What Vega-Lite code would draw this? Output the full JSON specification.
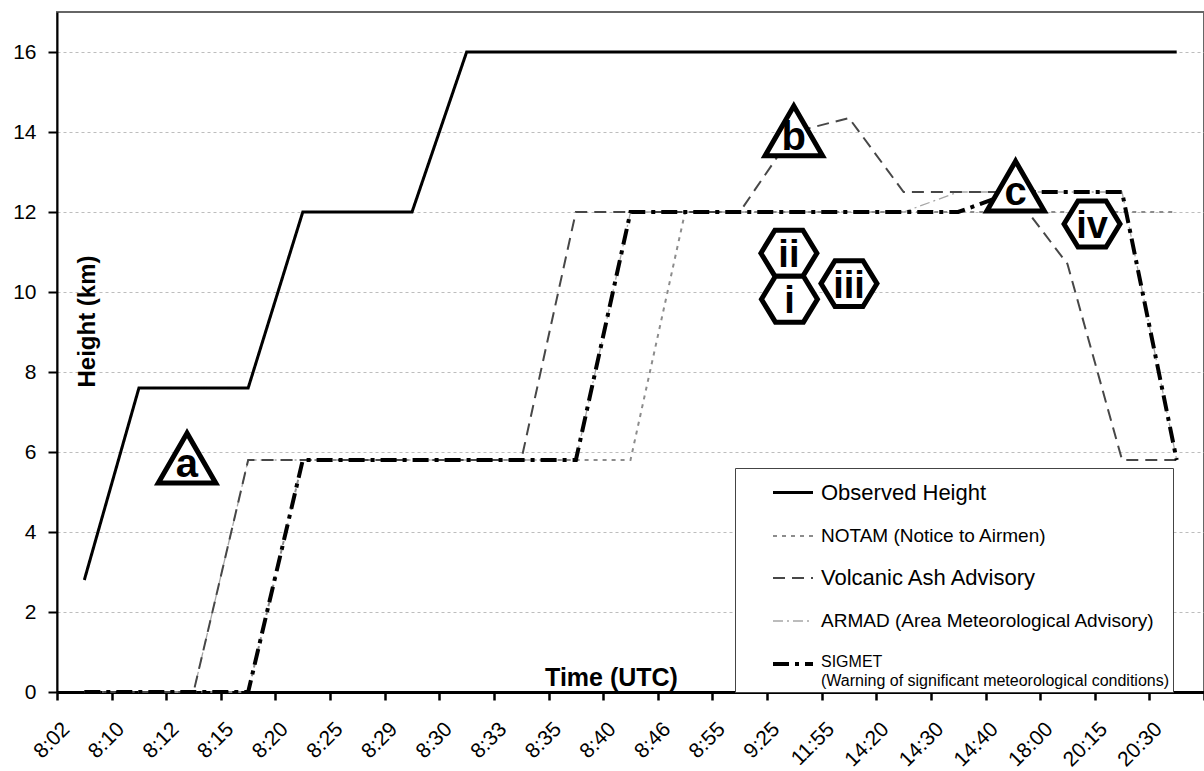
{
  "$schema": "https://vega.github.io/schema/vega-lite/v6.json",
  "width": 1147,
  "height": 680,
  "autosize": {"type": "none"},
  "padding": {"left": 57, "top": 12, "right": 0, "bottom": 79},
  "background": "white",
  "config": {
    "font": "Liberation Sans",
    "view": {"stroke": "#666666", "strokeWidth": 2}
  },
  "datasets": {
    "heights": [
      {"series": "ARMAD", "time": "8:02", "km": 0}, {"series": "ARMAD", "time": "8:10", "km": 0}, {"series": "ARMAD", "time": "8:12", "km": 0}, {"series": "ARMAD", "time": "8:15", "km": 5.8}, {"series": "ARMAD", "time": "8:20", "km": 5.8}, {"series": "ARMAD", "time": "8:25", "km": 5.8}, {"series": "ARMAD", "time": "8:29", "km": 5.8}, {"series": "ARMAD", "time": "8:30", "km": 5.8}, {"series": "ARMAD", "time": "8:33", "km": 5.8}, {"series": "ARMAD", "time": "8:35", "km": 5.8}, {"series": "ARMAD", "time": "8:40", "km": 12}, {"series": "ARMAD", "time": "8:46", "km": 12}, {"series": "ARMAD", "time": "8:55", "km": 12}, {"series": "ARMAD", "time": "9:25", "km": 12}, {"series": "ARMAD", "time": "11:55", "km": 12}, {"series": "ARMAD", "time": "14:20", "km": 12}, {"series": "ARMAD", "time": "14:30", "km": 12.5}, {"series": "ARMAD", "time": "14:40", "km": 12.5}, {"series": "ARMAD", "time": "18:00", "km": 12.5}, {"series": "ARMAD", "time": "20:15", "km": 12.5}, {"series": "ARMAD", "time": "20:30", "km": 5.8},
      {"series": "NOTAM", "time": "8:02", "km": 0}, {"series": "NOTAM", "time": "8:10", "km": 0}, {"series": "NOTAM", "time": "8:12", "km": 0}, {"series": "NOTAM", "time": "8:15", "km": 0}, {"series": "NOTAM", "time": "8:20", "km": 5.8}, {"series": "NOTAM", "time": "8:25", "km": 5.8}, {"series": "NOTAM", "time": "8:29", "km": 5.8}, {"series": "NOTAM", "time": "8:30", "km": 5.8}, {"series": "NOTAM", "time": "8:33", "km": 5.8}, {"series": "NOTAM", "time": "8:35", "km": 5.8}, {"series": "NOTAM", "time": "8:40", "km": 5.8}, {"series": "NOTAM", "time": "8:46", "km": 12}, {"series": "NOTAM", "time": "8:55", "km": 12}, {"series": "NOTAM", "time": "9:25", "km": 12}, {"series": "NOTAM", "time": "11:55", "km": 12}, {"series": "NOTAM", "time": "14:20", "km": 12}, {"series": "NOTAM", "time": "14:30", "km": 12}, {"series": "NOTAM", "time": "14:40", "km": 12}, {"series": "NOTAM", "time": "18:00", "km": 12}, {"series": "NOTAM", "time": "20:15", "km": 12}, {"series": "NOTAM", "time": "20:30", "km": 12},
      {"series": "Volcanic Ash Advisory", "time": "8:02", "km": 0}, {"series": "Volcanic Ash Advisory", "time": "8:10", "km": 0}, {"series": "Volcanic Ash Advisory", "time": "8:12", "km": 0}, {"series": "Volcanic Ash Advisory", "time": "8:15", "km": 5.8}, {"series": "Volcanic Ash Advisory", "time": "8:20", "km": 5.8}, {"series": "Volcanic Ash Advisory", "time": "8:25", "km": 5.8}, {"series": "Volcanic Ash Advisory", "time": "8:29", "km": 5.8}, {"series": "Volcanic Ash Advisory", "time": "8:30", "km": 5.8}, {"series": "Volcanic Ash Advisory", "time": "8:33", "km": 5.8}, {"series": "Volcanic Ash Advisory", "time": "8:35", "km": 12}, {"series": "Volcanic Ash Advisory", "time": "8:40", "km": 12}, {"series": "Volcanic Ash Advisory", "time": "8:46", "km": 12}, {"series": "Volcanic Ash Advisory", "time": "8:55", "km": 12}, {"series": "Volcanic Ash Advisory", "time": "9:25", "km": 14}, {"series": "Volcanic Ash Advisory", "time": "11:55", "km": 14.35}, {"series": "Volcanic Ash Advisory", "time": "14:20", "km": 12.5}, {"series": "Volcanic Ash Advisory", "time": "14:30", "km": 12.5}, {"series": "Volcanic Ash Advisory", "time": "14:40", "km": 12.5}, {"series": "Volcanic Ash Advisory", "time": "18:00", "km": 10.7}, {"series": "Volcanic Ash Advisory", "time": "20:15", "km": 5.8}, {"series": "Volcanic Ash Advisory", "time": "20:30", "km": 5.8},
      {"series": "SIGMET", "time": "8:02", "km": 0}, {"series": "SIGMET", "time": "8:10", "km": 0}, {"series": "SIGMET", "time": "8:12", "km": 0}, {"series": "SIGMET", "time": "8:15", "km": 0}, {"series": "SIGMET", "time": "8:20", "km": 5.8}, {"series": "SIGMET", "time": "8:25", "km": 5.8}, {"series": "SIGMET", "time": "8:29", "km": 5.8}, {"series": "SIGMET", "time": "8:30", "km": 5.8}, {"series": "SIGMET", "time": "8:33", "km": 5.8}, {"series": "SIGMET", "time": "8:35", "km": 5.8}, {"series": "SIGMET", "time": "8:40", "km": 12}, {"series": "SIGMET", "time": "8:46", "km": 12}, {"series": "SIGMET", "time": "8:55", "km": 12}, {"series": "SIGMET", "time": "9:25", "km": 12}, {"series": "SIGMET", "time": "11:55", "km": 12}, {"series": "SIGMET", "time": "14:20", "km": 12}, {"series": "SIGMET", "time": "14:30", "km": 12}, {"series": "SIGMET", "time": "14:40", "km": 12.5}, {"series": "SIGMET", "time": "18:00", "km": 12.5}, {"series": "SIGMET", "time": "20:15", "km": 12.5}, {"series": "SIGMET", "time": "20:30", "km": 5.8},
      {"series": "Observed Height", "time": "8:02", "km": 2.8}, {"series": "Observed Height", "time": "8:10", "km": 7.6}, {"series": "Observed Height", "time": "8:12", "km": 7.6}, {"series": "Observed Height", "time": "8:15", "km": 7.6}, {"series": "Observed Height", "time": "8:20", "km": 12}, {"series": "Observed Height", "time": "8:25", "km": 12}, {"series": "Observed Height", "time": "8:29", "km": 12}, {"series": "Observed Height", "time": "8:30", "km": 16}, {"series": "Observed Height", "time": "8:33", "km": 16}, {"series": "Observed Height", "time": "8:35", "km": 16}, {"series": "Observed Height", "time": "8:40", "km": 16}, {"series": "Observed Height", "time": "8:46", "km": 16}, {"series": "Observed Height", "time": "8:55", "km": 16}, {"series": "Observed Height", "time": "9:25", "km": 16}, {"series": "Observed Height", "time": "11:55", "km": 16}, {"series": "Observed Height", "time": "14:20", "km": 16}, {"series": "Observed Height", "time": "14:30", "km": 16}, {"series": "Observed Height", "time": "14:40", "km": 16}, {"series": "Observed Height", "time": "18:00", "km": 16}, {"series": "Observed Height", "time": "20:15", "km": 16}, {"series": "Observed Height", "time": "20:30", "km": 16}
    ],
    "triangles": [
      {"label": "a", "pos": 2.38, "km": 5.85},
      {"label": "b", "pos": 13.49, "km": 14.03},
      {"label": "c", "pos": 17.55, "km": 12.65}
    ],
    "hexagons": [
      {"label": "ii", "pos": 13.4, "km": 10.97},
      {"label": "i", "pos": 13.41, "km": 9.82},
      {"label": "iii", "pos": 14.5, "km": 10.21},
      {"label": "iv", "pos": 18.95, "km": 11.7}
    ]
  },
  "layer": [
    {
      "data": {"name": "heights"},
      "mark": {"type": "line", "strokeCap": "butt", "strokeJoin": "miter"},
      "encoding": {
        "x": {
          "field": "time", "type": "ordinal",
          "sort": ["8:02","8:10","8:12","8:15","8:20","8:25","8:29","8:30","8:33","8:35","8:40","8:46","8:55","9:25","11:55","14:20","14:30","14:40","18:00","20:15","20:30"],
          "scale": {"type": "band", "paddingInner": 0, "paddingOuter": 0},
          "bandPosition": 0.5,
          "axis": {
            "title": "Time (UTC)", "titleFontSize": 25, "titleFontWeight": "bold", "titleColor": "black",
            "titleX": 554, "titleY": -15, "titleAlign": "center", "titleBaseline": "middle",
            "labelAngle": -45, "labelFontSize": 21, "labelColor": "black", "labelPadding": 18, "labelOffset": -26,
            "tickBand": "extent", "tickSize": 8, "tickColor": "black", "tickWidth": 2.5,
            "domainColor": "black", "domainWidth": 3, "grid": false
          }
        },
        "y": {
          "field": "km", "type": "quantitative",
          "scale": {"domain": [0, 17], "nice": false},
          "axis": {
            "title": "Height (km)", "titleFontSize": 24, "titleFontWeight": "bold", "titleColor": "black",
            "titleX": 30, "titleY": 309, "titleAngle": -90, "titleAlign": "center", "titleBaseline": "middle",
            "values": [0, 2, 4, 6, 8, 10, 12, 14, 16],
            "labelFontSize": 21, "labelColor": "black", "labelPadding": 12,
            "tickSize": 9, "tickColor": "black", "tickWidth": 2,
            "domainColor": "black", "domainWidth": 2,
            "grid": true, "gridColor": "#bdbdbd", "gridDash": [3, 3], "gridWidth": 1
          }
        },
        "color": {
          "field": "series", "type": "nominal",
          "scale": {"domain": ["Observed Height", "NOTAM", "Volcanic Ash Advisory", "ARMAD", "SIGMET"], "range": ["#000000", "#8c8c8c", "#474747", "#a6a6a6", "#000000"]},
          "legend": {"title": " ", "titleOrient": "left", "titleFontSize": 1, "titlePadding": 33, "orient": "none", "legendX": 678, "legendY": 456, "symbolType": "stroke", "symbolSize": 1600, "labelFontSize": 19, "labelColor": "black", "labelLimit": 600, "labelOffset": 6, "rowPadding": 11, "padding": 3, "fillColor": "white", "strokeColor": "#444444", "zindex": 5,
            "labelExpr": "datum.label === 'NOTAM' ? 'NOTAM  (Notice to Airmen)' : datum.label === 'ARMAD' ? 'ARMAD  (Area Meteorological Advisory)' : datum.label === 'SIGMET' ? ['SIGMET', '(Warning of significant meteorological conditions)'] : datum.label",
            "encode": {"labels": {"update": {"fontSize": {"signal": "datum.label === 'SIGMET' ? 16 : (datum.label === 'NOTAM' || datum.label === 'ARMAD') ? 19 : 22"}, "baseline": {"signal": "datum.label === 'SIGMET' ? 'top' : 'middle'"}, "dy": {"signal": "datum.label === 'SIGMET' ? -10 : 0"}, "lineHeight": {"value": 19}}}}}
        },
        "strokeDash": {
          "field": "series", "type": "nominal",
          "scale": {"domain": ["Observed Height", "NOTAM", "Volcanic Ash Advisory", "ARMAD", "SIGMET"], "range": [[1, 0], [4, 5], [12, 7], [10, 4, 2, 4], [16, 6, 4, 6]]},
          "legend": {"title": " ", "titleOrient": "left", "titleFontSize": 1, "titlePadding": 33, "orient": "none", "legendX": 678, "legendY": 456, "symbolType": "stroke", "symbolSize": 1600, "labelFontSize": 19, "labelColor": "black", "labelLimit": 600, "labelOffset": 6, "rowPadding": 11, "padding": 3, "fillColor": "white", "strokeColor": "#444444", "zindex": 5,
            "labelExpr": "datum.label === 'NOTAM' ? 'NOTAM  (Notice to Airmen)' : datum.label === 'ARMAD' ? 'ARMAD  (Area Meteorological Advisory)' : datum.label === 'SIGMET' ? ['SIGMET', '(Warning of significant meteorological conditions)'] : datum.label",
            "encode": {"labels": {"update": {"fontSize": {"signal": "datum.label === 'SIGMET' ? 16 : (datum.label === 'NOTAM' || datum.label === 'ARMAD') ? 19 : 22"}, "baseline": {"signal": "datum.label === 'SIGMET' ? 'top' : 'middle'"}, "dy": {"signal": "datum.label === 'SIGMET' ? -10 : 0"}, "lineHeight": {"value": 19}}}}}
        },
        "strokeWidth": {
          "field": "series", "type": "nominal",
          "scale": {"type": "ordinal", "domain": ["Observed Height", "NOTAM", "Volcanic Ash Advisory", "ARMAD", "SIGMET"], "range": [3, 2, 2, 1.3, 4]},
          "legend": {"title": " ", "titleOrient": "left", "titleFontSize": 1, "titlePadding": 33, "orient": "none", "legendX": 678, "legendY": 456, "symbolType": "stroke", "symbolSize": 1600, "labelFontSize": 19, "labelColor": "black", "labelLimit": 600, "labelOffset": 6, "rowPadding": 11, "padding": 3, "fillColor": "white", "strokeColor": "#444444", "zindex": 5,
            "labelExpr": "datum.label === 'NOTAM' ? 'NOTAM  (Notice to Airmen)' : datum.label === 'ARMAD' ? 'ARMAD  (Area Meteorological Advisory)' : datum.label === 'SIGMET' ? ['SIGMET', '(Warning of significant meteorological conditions)'] : datum.label",
            "encode": {"labels": {"update": {"fontSize": {"signal": "datum.label === 'SIGMET' ? 16 : (datum.label === 'NOTAM' || datum.label === 'ARMAD') ? 19 : 22"}, "baseline": {"signal": "datum.label === 'SIGMET' ? 'top' : 'middle'"}, "dy": {"signal": "datum.label === 'SIGMET' ? -10 : 0"}, "lineHeight": {"value": 19}}}}}
        },
        "order": {"value": null}
      }
    },
    {
      "data": {"name": "triangles"},
      "mark": {"type": "point", "shape": "triangle-up", "size": 3300, "filled": true, "fill": "white", "stroke": "black", "strokeWidth": 5, "opacity": 1, "strokeJoin": "miter"},
      "encoding": {
        "x": {"field": "pos", "type": "quantitative", "scale": {"domain": [0, 21], "nice": false, "zero": false}, "axis": null},
        "y": {"field": "km", "type": "quantitative", "scale": {"domain": [0, 17], "nice": false}}
      }
    },
    {
      "data": {"name": "hexagons"},
      "mark": {"type": "point", "shape": "M-1,0L-0.5,-0.82L0.5,-0.82L1,0L0.5,0.82L-0.5,0.82Z", "size": 3136, "filled": true, "fill": "white", "stroke": "black", "strokeWidth": 5, "opacity": 1, "strokeJoin": "miter"},
      "encoding": {
        "x": {"field": "pos", "type": "quantitative", "scale": {"domain": [0, 21], "nice": false, "zero": false}, "axis": null},
        "y": {"field": "km", "type": "quantitative", "scale": {"domain": [0, 17], "nice": false}}
      }
    },
    {
      "data": {"name": "triangles"},
      "mark": {"type": "text", "font": "Liberation Sans Narrow, Liberation Sans", "fontSize": 40, "fontWeight": "bold", "baseline": "alphabetic", "align": "center", "dy": 19, "color": "black"},
      "encoding": {
        "x": {"field": "pos", "type": "quantitative", "scale": {"domain": [0, 21], "nice": false, "zero": false}, "axis": null},
        "y": {"field": "km", "type": "quantitative", "scale": {"domain": [0, 17], "nice": false}},
        "text": {"field": "label"}
      }
    },
    {
      "data": {"name": "hexagons"},
      "mark": {"type": "text", "font": "Liberation Sans Narrow, Liberation Sans", "fontSize": 38, "fontWeight": "bold", "baseline": "alphabetic", "align": "center", "dy": 14, "color": "black"},
      "encoding": {
        "x": {"field": "pos", "type": "quantitative", "scale": {"domain": [0, 21], "nice": false, "zero": false}, "axis": null},
        "y": {"field": "km", "type": "quantitative", "scale": {"domain": [0, 17], "nice": false}},
        "text": {"field": "label"}
      }
    }
  ],
  "resolve": {"scale": {"x": "independent"}}
}
